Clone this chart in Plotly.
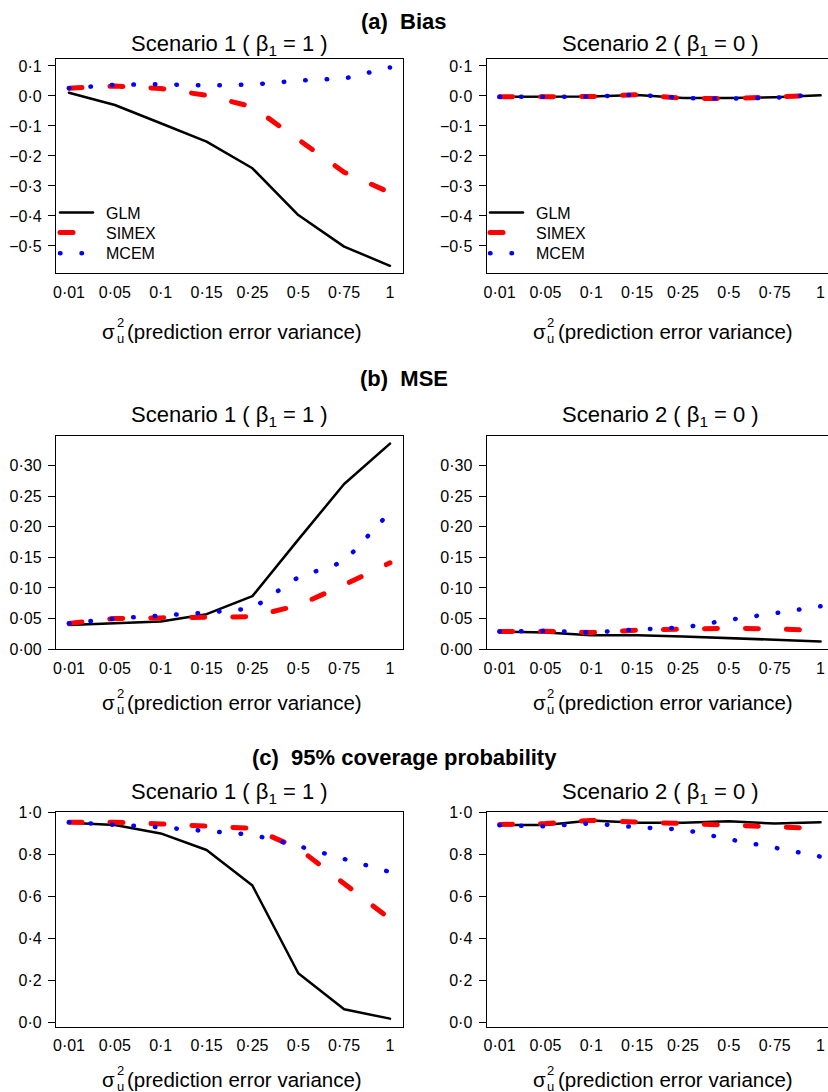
import plotly.graph_objects as go

# ---------------- data ----------------
x_labels = ["0·01", "0·05", "0·1", "0·15", "0·25", "0·5", "0·75", "1"]

bias_s1_glm = [0.011, -0.030, -0.091, -0.152, -0.241, -0.397, -0.502, -0.566]
bias_s1_simex = [0.026, 0.033, 0.025, 0.002, -0.036, -0.143, -0.254, -0.322]
bias_s1_mcem = [0.026, 0.037, 0.039, 0.035, 0.038, 0.051, 0.058, 0.095]

bias_s2_glm = [-0.003, -0.003, -0.002, 0.003, -0.007, -0.007, -0.004, 0.002]
bias_s2_simex = [-0.003, -0.004, -0.002, 0.004, -0.008, -0.009, -0.005, 0.003]
bias_s2_mcem = [-0.003, -0.003, -0.002, 0.004, -0.007, -0.009, -0.006, 0.006]

mse_s1_glm = [0.0395, 0.042, 0.045, 0.057, 0.0866, 0.179, 0.270, 0.336]
mse_s1_simex = [0.042, 0.050, 0.051, 0.0525, 0.053, 0.0715, 0.105, 0.141]
mse_s1_mcem = [0.042, 0.050, 0.0547, 0.0596, 0.0666, 0.1175, 0.143, 0.224]

mse_s2_glm = [0.0287, 0.027, 0.0227, 0.0227, 0.0206, 0.0173, 0.0152, 0.0125]
mse_s2_simex = [0.0287, 0.029, 0.027, 0.031, 0.0325, 0.034, 0.033, 0.030]
mse_s2_mcem = [0.0287, 0.0298, 0.027, 0.032, 0.035, 0.0477, 0.0585, 0.070]

cov_s1_glm = [0.952, 0.941, 0.901, 0.822, 0.652, 0.234, 0.062, 0.0175]
cov_s1_simex = [0.954, 0.954, 0.946, 0.936, 0.925, 0.830, 0.665, 0.493]
cov_s1_mcem = [0.954, 0.944, 0.930, 0.912, 0.895, 0.841, 0.777, 0.717]

cov_s2_glm = [0.941, 0.941, 0.962, 0.952, 0.952, 0.959, 0.948, 0.954]
cov_s2_simex = [0.943, 0.948, 0.963, 0.955, 0.949, 0.940, 0.928, 0.925]
cov_s2_mcem = [0.940, 0.935, 0.949, 0.930, 0.920, 0.873, 0.833, 0.790]

bias_ticks = [0.1, 0.0, -0.1, -0.2, -0.3, -0.4, -0.5]
bias_ticktext = ["0·1", "0·0", "−0·1", "−0·2", "−0·3", "−0·4", "−0·5"]
mse_ticks = [0.0, 0.05, 0.10, 0.15, 0.20, 0.25, 0.30]
mse_ticktext = ["0·00", "0·05", "0·10", "0·15", "0·20", "0·25", "0·30"]
cov_ticks = [0.0, 0.2, 0.4, 0.6, 0.8, 1.0]
cov_ticktext = ["0·0", "0·2", "0·4", "0·6", "0·8", "1·0"]

series_names = ["GLM", "SIMEX", "MCEM"]
section_titles = ["(a)\u00a0 Bias", "(b)\u00a0 MSE", "(c)\u00a0 95% coverage probability"]
scenario_titles = ["Scenario 1 ( β<sub>1</sub> = 1 )", "Scenario 2 ( β<sub>1</sub> = 0 )"]

# ---------------- layout helpers ----------------
W, H = 828, 1092
FONT = "Liberation Sans, Arial, Helvetica, sans-serif"


def fx(p):
    return p / W


def fy(p):
    return 1 - p / H


styles = {
    "GLM": dict(color="#000000", width=2.5),
    "SIMEX": dict(color="#ff0000", width=5, dash="13px,28px"),
    "MCEM": dict(color="#0000ff", width=4.5, dash="0.5px,21px"),
}

panels = [
    (0, 0, [bias_s1_glm, bias_s1_simex, bias_s1_mcem], bias_ticks, bias_ticktext, [-0.591, 0.1222]),
    (0, 1, [bias_s2_glm, bias_s2_simex, bias_s2_mcem], bias_ticks, bias_ticktext, [-0.591, 0.1222]),
    (1, 0, [mse_s1_glm, mse_s1_simex, mse_s1_mcem], mse_ticks, mse_ticktext, [-0.0004, 0.3485]),
    (1, 1, [mse_s2_glm, mse_s2_simex, mse_s2_mcem], mse_ticks, mse_ticktext, [-0.0004, 0.3485]),
    (2, 0, [cov_s1_glm, cov_s1_simex, cov_s1_mcem], cov_ticks, cov_ticktext, [-0.021, 1.0045]),
    (2, 1, [cov_s2_glm, cov_s2_simex, cov_s2_mcem], cov_ticks, cov_ticktext, [-0.021, 1.0045]),
]

box_top = [59.3, 436.0, 811.7]
box_bot = [273.3, 649.3, 1026.7]
box_left = [56.0, 486.7]
box_right = [403.0, 828.0]
box_center = [229.5, 660.35]
xranges = [[-0.2835, 7.2835], [-0.28, (828 - 486.7) / 45.86 - 0.28]]
main_title_y = [21, 378, 757]
scen_title_y = [45, 416, 793]
xtitle_y = [331, 702, 1079]
legend_rows_y = [212.7, 232.7, 253.3]
legend_x = [55, 485]

fig = go.Figure()
layout = dict(
    width=W, height=H,
    margin=dict(l=0, r=0, t=0, b=0, pad=0, autoexpand=False),
    paper_bgcolor="white", plot_bgcolor="white",
    font=dict(family=FONT, color="black", size=16),
    showlegend=True,
    annotations=[],
)

legend_counter = 0
for i, (row, col, data, tv, tt, yr) in enumerate(panels):
    n = i + 1
    xa = "x" if n == 1 else f"x{n}"
    ya = "y" if n == 1 else f"y{n}"
    for k, (name, ys) in enumerate(zip(series_names, data)):
        show = row == 0
        lg = "legend"
        if show:
            legend_counter += 1
            lg = "legend" if legend_counter == 1 else f"legend{legend_counter}"
            layout[lg] = dict(
                x=fx(legend_x[col]), y=fy(legend_rows_y[k]),
                xanchor="left", yanchor="middle", bgcolor="rgba(0,0,0,0)",
                font=dict(size=16, family=FONT, color="black"),
                itemwidth=33, borderwidth=0,
            )
        fig.add_trace(go.Scatter(
            x=x_labels, y=ys, mode="lines", name="\u2002" + name,
            line=styles[name], xaxis=xa, yaxis=ya,
            showlegend=show, legend=lg, hoverinfo="skip",
        ))
    xkey = "xaxis" if n == 1 else f"xaxis{n}"
    ykey = "yaxis" if n == 1 else f"yaxis{n}"
    layout[xkey] = dict(
        domain=[fx(box_left[col]), fx(box_right[col])],
        anchor=ya, type="category", range=xranges[col],
        automargin=False,
        showgrid=False, zeroline=False,
        showline=True, linecolor="black", linewidth=1.3, mirror=True,
        ticks="outside", ticklen=4, tickcolor="rgba(0,0,0,0)",
        ticklabeloverflow="allow",
        tickfont=dict(size=16, family=FONT, color="black"),
        fixedrange=True,
    )
    layout[ykey] = dict(
        domain=[fy(box_bot[row]), fy(box_top[row])],
        anchor=xa, range=yr,
        automargin=False,
        tickmode="array", tickvals=tv, ticktext=tt,
        showgrid=False, zeroline=False,
        showline=True, linecolor="black", linewidth=1.3,
        mirror=True if col == 0 else False,
        ticks="outside", ticklen=7, tickwidth=1.2, tickcolor="black",
        tickfont=dict(size=16, family=FONT, color="black"),
        ticklabelstandoff=3,
        fixedrange=True,
    )
    cx = box_center[col]
    layout["annotations"].append(dict(
        text=scenario_titles[col], x=fx(cx), y=fy(scen_title_y[row]),
        xref="paper", yref="paper", xanchor="center", yanchor="middle",
        showarrow=False, font=dict(size=22, family=FONT, color="black"),
    ))
    ty = xtitle_y[row]
    layout["annotations"].append(dict(
        text="(prediction error variance)", x=fx(cx - 104.2), y=fy(ty),
        xref="paper", yref="paper", xanchor="left", yanchor="middle",
        showarrow=False, font=dict(size=20.5, family=FONT, color="black"),
    ))
    layout["annotations"].append(dict(
        text="σ", x=fx(cx - 121.1), y=fy(ty),
        xref="paper", yref="paper", xanchor="center", yanchor="middle",
        showarrow=False, font=dict(size=20.5, family=FONT, color="black"),
    ))
    layout["annotations"].append(dict(
        text="2", x=fx(cx - 109.5), y=fy(ty - 9),
        xref="paper", yref="paper", xanchor="center", yanchor="middle",
        showarrow=False, font=dict(size=13, family=FONT, color="black"),
    ))
    layout["annotations"].append(dict(
        text="u", x=fx(cx - 109.5), y=fy(ty + 7),
        xref="paper", yref="paper", xanchor="center", yanchor="middle",
        showarrow=False, font=dict(size=13, family=FONT, color="black"),
    ))

for r in range(3):
    layout["annotations"].append(dict(
        text="<b>" + section_titles[r] + "</b>", x=fx(404), y=fy(main_title_y[r]),
        xref="paper", yref="paper", xanchor="center", yanchor="middle",
        showarrow=False, font=dict(size=22, family=FONT, color="black"),
    ))

fig.update_layout(**layout)

post = """
var st = document.createElement('style');
st.innerHTML = 'html, body { margin: 0 !important; padding: 0 !important; overflow: hidden; } path.js-line { stroke-linecap: round; stroke-linejoin: round; }';
document.head.appendChild(st);
"""
fig.write_html("out.html", post_script=post, config={"displayModeBar": False})
